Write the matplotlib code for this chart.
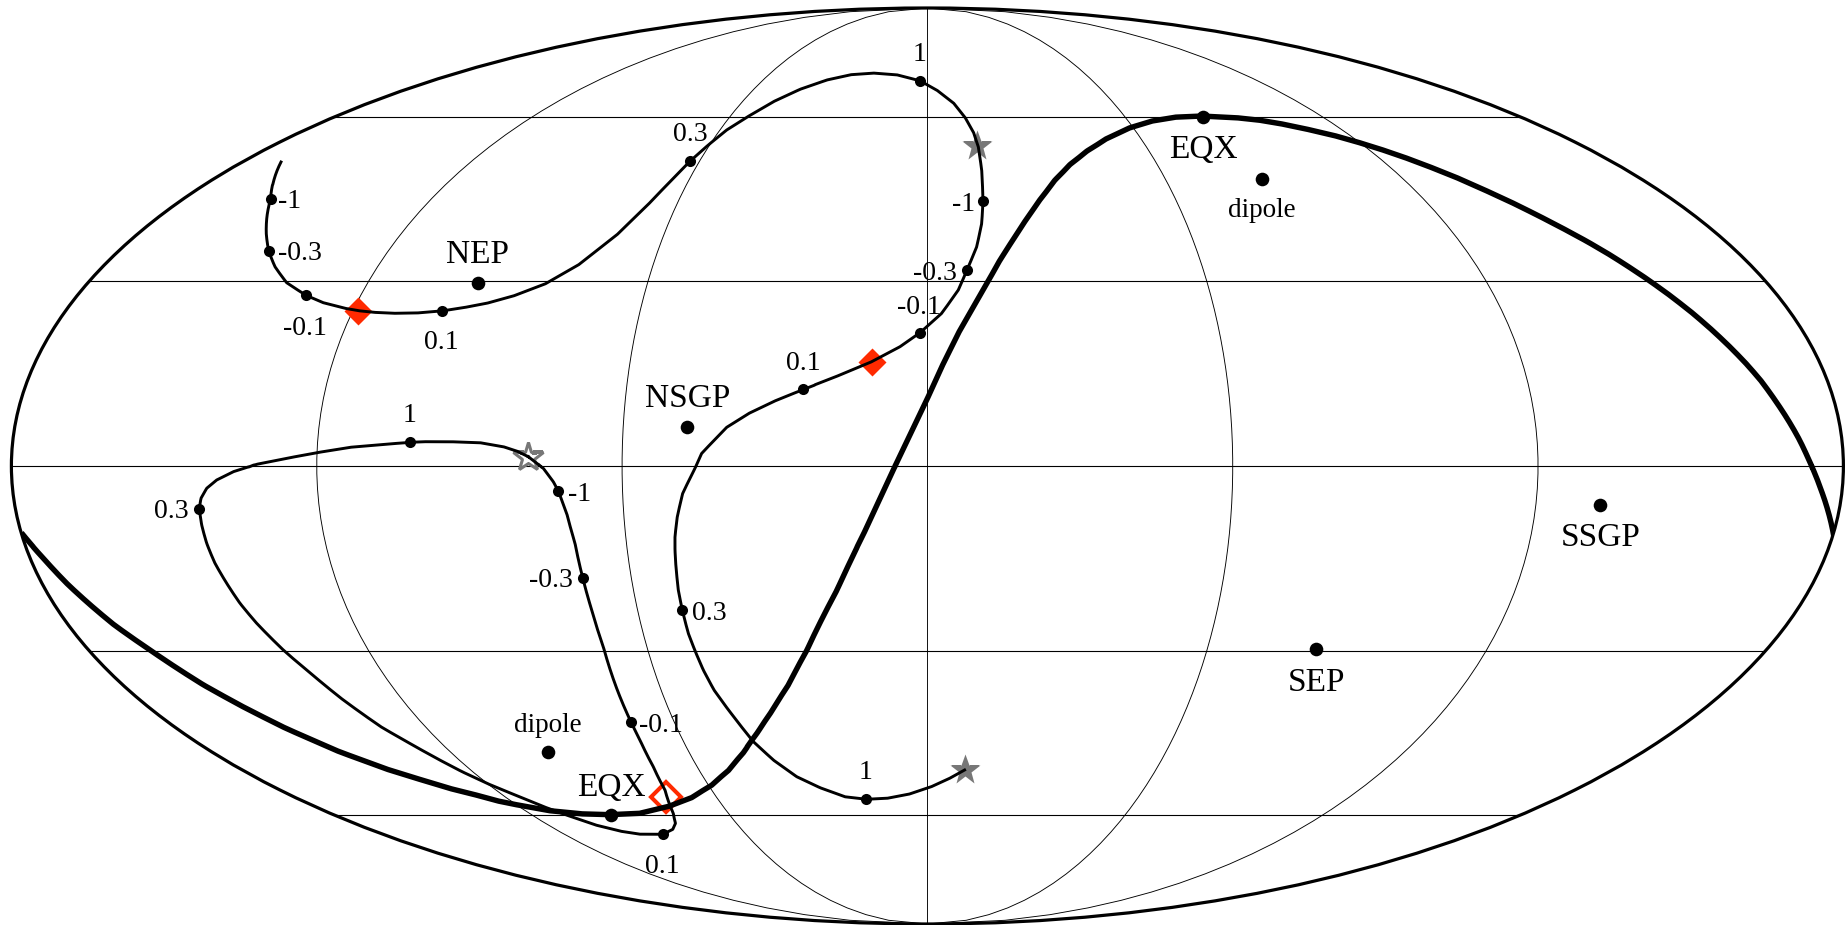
import numpy as np
import matplotlib
matplotlib.use("Agg")
import matplotlib.pyplot as plt

# -- values, as positions on the Mollweide map sheet ---
ecliptic_x = [1833.8, 1828, 1821.5, 1815, 1808, 1799, 1789, 1776, 1762, 1746, 1730, 1712,
              1693, 1670, 1647, 1629, 1611, 1588, 1565, 1540, 1515, 1487, 1460, 1434,
              1409, 1386, 1363, 1338, 1313, 1285, 1262, 1240, 1202.7, 1176.7, 1153.3, 1130, 1107,
              1087, 1070, 1055, 1041, 1027, 1013, 1000, 987, 975, 960, 944, 928, 897,
              867, 837, 807, 789, 772, 758, 744, 729, 712, 692, 670, 640, 611.4,
              583.6, 551.4, 522.9, 500, 480, 453.6, 430, 389.3, 339.3, 285.7, 242.9, 203.6, 176.8, 150, 114.3, 91,
              67.9, 46.4, 23.2]
ecliptic_y = [536.7, 511, 491, 474, 458, 439, 421.5, 401.5, 382, 363.5, 347, 330,
              313.5, 295.5, 279, 267, 255.5, 242, 229.5, 216.5, 204, 191, 179, 168.5,
              159, 151, 143.7, 136.5, 130.5, 124.5, 120.5, 118, 116, 117, 120.7, 127.7, 138.3,
              151, 164.5, 180, 198, 218, 239.5, 260, 283, 304, 330, 362, 397, 462,
              527, 590, 650, 684, 711, 732, 752, 770, 785, 797.5, 806, 813.3, 814.7,
              814, 811, 806, 801.5, 796, 789.5, 782.5, 770, 751.7, 728.3, 706.7, 685, 668, 650, 625, 605.5,
              584.5, 561.7, 535]

track_x = [281, 270.7, 267, 266.3, 268.7, 275, 286.7, 306, 323.3, 345, 358.3, 373.3, 393.3, 416.7, 441.7,
           463.3, 486.7, 513.3, 545, 578.3, 616.7, 646.7, 670, 690.3, 708.3, 726.7, 746.7, 773.3, 800,
           826.7, 850, 873.3, 896.7, 920, 936.7, 953.3, 965, 973.3, 978.3, 981.7, 983, 981.7, 976.7, 967,
           958.3, 941.7, 920, 900, 871.7, 840, 803.3, 776.7, 750, 726.7, 701.7, 695, 682.7, 677.3, 675,
           675, 675.7, 678.3, 682.3, 688.3, 695, 703.3, 714, 727, 740, 753.3, 773.3, 796.7, 820, 844.3, 866,
           887.1, 908.6, 930, 947.9, 964.6]
track_y = [162, 199, 216.7, 233.3, 250.7, 266.7, 282.7, 295.3, 302.7, 308.3, 310.7, 312.3, 313.3, 313, 311,
           307.7, 303.3, 296, 284, 265, 235, 206, 181.7, 161, 145, 130, 117.3, 101.7, 89.3,
           80, 74.7, 73, 74.7, 80.7, 90, 102.7, 117.3, 131.7, 146.7, 170, 200.7, 223.3, 246.7, 270,
           290, 313.3, 332.7, 346.7, 361.7, 375, 389.3, 400, 412.7, 427.3, 453.3, 468.3, 493.3, 516.7, 536.7,
           550, 563.3, 590, 610, 633.3, 650.7, 670, 690, 708, 725, 741.7, 760, 776.7, 787.7, 796.7, 799.3,
           798.3, 794.3, 787.3, 779.3, 770]

loop_x = [528.3, 543.3, 553.3, 558.3, 566.7, 575, 582.7, 591.7, 603.3, 617.3, 631, 640, 653.3, 665,
          673.3, 675.5, 672.9, 662.9, 640.7, 622.9, 597.9, 572.9, 547.9, 519.3, 490.7, 462.1, 442.9,
          382, 342, 313, 283.3, 256.7, 240, 226.7, 215, 206.7, 201.7, 199.3, 201, 206.7, 216.7, 233.3,
          256.7, 286.7, 316.7, 350, 380, 410, 423.3, 450, 480, 503.3, 516.7, 528.3]
loop_y = [456.7, 468.3, 481.7, 490.7, 513.3, 543.3, 577.7, 610, 646.7, 690, 722, 740, 766.7, 790,
          813.3, 823.3, 829.3, 834.3, 834.3, 831.7, 825.7, 817.3, 808.3, 796.7, 785, 771.7, 761.7,
          727.5, 699, 675.3, 650, 623.3, 603.3, 583.3, 563.3, 543.3, 525, 508.3, 498.3, 488.3, 480, 471.7,
          464.3, 458.3, 452.7, 447.3, 444.7, 442.3, 441.7, 441.7, 442.7, 446.7, 451, 456.7]

# redshift dots on the two tracks
dot_x = [270.7, 268.7, 306, 441.7, 690.3, 920, 983, 967, 920, 803.3, 682.3, 866,
         558.3, 582.7, 631, 662.9, 199.3, 410]
dot_y = [199, 250.7, 295.3, 311, 161, 80.7, 200.7, 270, 332.7, 389.3, 610, 799.3,
         490.7, 577.7, 722, 834.3, 508.7, 442.3]
dot_text = ["-1", "-0.3", "-0.1", "0.1", "0.3", "1", "-1", "-0.3", "-0.1", "0.1", "0.3", "1",
            "-1", "-0.3", "-0.1", "0.1", "0.3", "1"]
dot_text_x = [290, 300, 305.3, 441.7, 690, 920, 963.3, 935, 919.3, 803.3, 709.7, 866,
              580, 550.7, 661.4, 662, 171, 410]
dot_text_y = [201.5, 253.5, 328.2, 342.5, 134.8, 54.2, 204.8, 273.2, 307.5, 363.2, 613.2, 772.5,
              494.2, 580.8, 725.2, 866.8, 511.2, 415.8]

# named sky positions
pole_x = [477.7, 687.3, 1203.3, 611.4, 1600.2, 1316.2]
pole_y = [282.7, 426.7, 116.7, 814.7, 505, 648.7]
pole_text = ["NEP", "NSGP", "EQX", "EQX", "SSGP", "SEP"]
pole_text_x = [477.3, 687.3, 1203.3, 611, 1600.7, 1316.2]
pole_text_y = [254.8, 398.5, 149.8, 787.5, 537.5, 683]

dipole_x = [1261.9, 548.2]
dipole_y = [179, 752.3]
dipole_text_y = [210.8, 725.8]

diamond_x = [358.3, 871.7]
diamond_y = [310.7, 361.7]
open_diamond_x = [666.4]
open_diamond_y = [797.3]
star_x = [977.3, 964.6]
star_y = [146, 770]
open_star_x = [528.3]
open_star_y = [456.7]

# -- sheet geometry of the reference ------------------------------------------
W, H = 1846, 925
CX, CY, RX, RY = 927.4, 466, 916, 458
RED = "#ff2a00"
GREY = "#777777"

plt.rcParams["font.family"] = ["Liberation Serif", "DejaVu Serif"]

fig = plt.figure(figsize=(W / 100, H / 100), dpi=100)
ax = fig.add_axes([(CX - RX) / W, (H - CY - RY) / H, 2 * RX / W, 2 * RY / H], projection="mollweide")
ax.set_longitude_grid(60)
ax.set_latitude_grid(30)
ax.set_longitude_grid_ends(90)
ax.xaxis.set_ticklabels([])
ax.yaxis.set_ticklabels([])
ax.set_axisbelow(True)
ax.xaxis.grid(True, color="black", linewidth=0.65, linestyle="-")
ax.yaxis.grid(True, color="black", linewidth=0.8, linestyle="-")
ax.spines["geo"].set_linewidth(2.3)
ax.spines["geo"].set_edgecolor("black")


def lonlat(x, y):
    # sheet position -> longitude, latitude (radians), so the projection places it
    mx = (np.asarray(x, dtype=float) - CX) / RX * 2 * np.sqrt(2)
    my = (CY - np.asarray(y, dtype=float)) / RY * np.sqrt(2)
    pts = ax.transProjection.inverted().transform(np.column_stack([mx, my]))
    return pts[:, 0], pts[:, 1]


# markers under the lines
lon, lat = lonlat(diamond_x, diamond_y)
ax.plot(lon, lat, ls="none", marker="D", ms=14.3, mfc=RED, mec="none", zorder=3)
lon, lat = lonlat(open_diamond_x, open_diamond_y)
ax.plot(lon, lat, ls="none", marker="D", ms=15.2, mfc="none", mec=RED, mew=2.9, zorder=3)
lon, lat = lonlat(star_x, star_y)
ax.plot(lon, lat, ls="none", marker="*", ms=23, mfc=GREY, mec="none", zorder=3)
lon, lat = lonlat(open_star_x, open_star_y)
ax.plot(lon, lat, ls="none", marker="*", ms=22, mfc="none", mec=GREY, mew=2.2, zorder=3)

for xs, ys, lw in [(ecliptic_x, ecliptic_y, 3.9), (track_x, track_y, 2.1), (loop_x, loop_y, 2.1)]:
    lon, lat = lonlat(xs, ys)
    ax.plot(lon, lat, color="black", linewidth=lw, solid_joinstyle="round", zorder=4)

lon, lat = lonlat(dot_x, dot_y)
ax.plot(lon, lat, ls="none", marker="o", ms=8, color="black", mew=0, zorder=5)
lon, lat = lonlat(pole_x, pole_y)
ax.plot(lon, lat, ls="none", marker="o", ms=9.8, color="black", mew=0, zorder=5)
lon, lat = lonlat(dipole_x, dipole_y)
ax.plot(lon, lat, ls="none", marker="o", ms=9.8, color="black", mew=0, zorder=5)

lon, lat = lonlat(dot_text_x, dot_text_y)
for a, b, s in zip(lon, lat, dot_text):
    ax.text(a, b, s, fontsize=20, ha="center", va="center", zorder=6)
lon, lat = lonlat(pole_text_x, pole_text_y)
for a, b, s in zip(lon, lat, pole_text):
    ax.text(a, b, s, fontsize=24, ha="center", va="center", zorder=6)
lon, lat = lonlat(dipole_x, dipole_text_y)
for a, b in zip(lon, lat):
    ax.text(a, b, "dipole", fontsize=19.5, ha="center", va="center", zorder=6)

fig.savefig("out.png", dpi=100)
